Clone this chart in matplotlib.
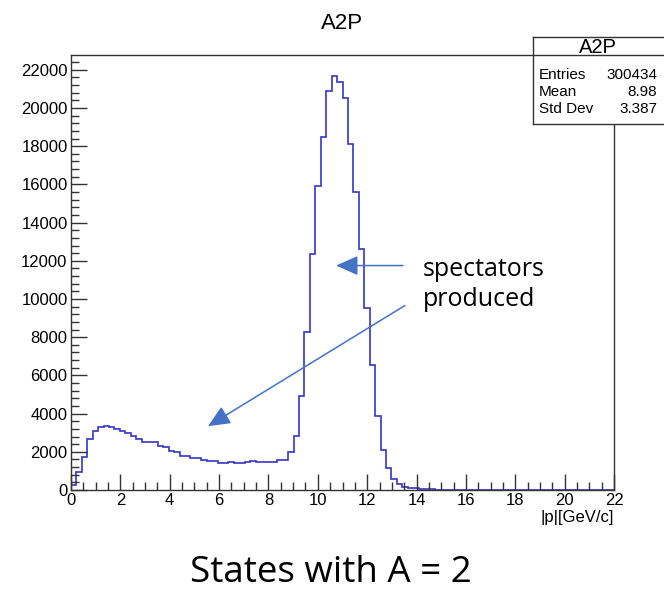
import numpy as np
import matplotlib
matplotlib.use('Agg')
import matplotlib.pyplot as plt
from matplotlib.ticker import MultipleLocator


# histogram A2P : 100 bins over 0..22 GeV/c
x_lo = 0.0
x_hi = 22.0
counts = [250, 920, 1740, 2670, 3100, 3280, 3360, 3280, 3170, 3100,
          3010, 2820, 2650, 2510, 2490, 2520, 2300, 2230, 2060, 1970,
          1790, 1790, 1700, 1650, 1570, 1530, 1530, 1430, 1430, 1450,
          1430, 1430, 1480, 1500, 1460, 1480, 1480, 1480, 1570, 1570,
          2000, 2820, 4910, 8280, 12370, 15890, 18500, 20900, 21690, 21340,
          20500, 18120, 15590, 12630, 9550, 6530, 3870, 2110, 1150, 580,
          310, 170, 120, 80, 60, 40, 30, 20, 10, 0] + [0] * 30

stat_names = ['Entries', 'Mean', 'Std Dev']
stat_values = ['300434', '8.98', '3.387']

# arrows pointing at the spectator bump / peak (data coords)
arrow_peak = ((13.45, 11750), (10.74, 11750))
arrow_bump = ((13.53, 9660), (5.55, 3340))

W, H = 664, 593
hist_col = '#3535c4'
arrow_col = '#4472c4'
root_font = 'Liberation Sans'
slide_font = 'Open Sans'


def px(x, y):
    return x / W, 1 - y / H


def main():

    fig = plt.figure(figsize=(W / 100, H / 100), dpi=100)
    fig.patch.set_facecolor('white')

    l, t = px(71, 55)
    r, b = px(614, 490)
    ax = fig.add_axes([l, b, r - l, t - b])

    edges = np.linspace(x_lo, x_hi, len(counts) + 1)
    ax.stairs(counts, edges, baseline=0, color=hist_col, lw=1.2)

    ax.set_xlim(x_lo, x_hi)
    ax.set_ylim(0, 1.05 * max(counts))

    ax.xaxis.set_major_locator(MultipleLocator(2))
    ax.xaxis.set_minor_locator(MultipleLocator(0.5))
    ax.yaxis.set_major_locator(MultipleLocator(2000))
    ax.yaxis.set_minor_locator(MultipleLocator(400))
    ax.tick_params(which='both', direction='in', top=False, right=False,
                   color='#333333', width=1.0)
    ax.tick_params(which='major', length=11.5, labelsize=12, pad=2.5)
    ax.tick_params(which='minor', length=5.8)
    for lab in ax.get_xticklabels() + ax.get_yticklabels():
        lab.set_fontfamily(root_font)
    for sp in ax.spines.values():
        sp.set_color('#333333')
        sp.set_linewidth(1.0)

    ax.set_xlabel('|p|[GeV/c]', loc='right', fontsize=12,
                  family=root_font, labelpad=1)

    # arrows + annotation text (slide overlay)
    for start, tip in (arrow_peak, arrow_bump):
        ax.annotate('', xy=tip, xytext=start,
                    arrowprops=dict(arrowstyle='-|>,head_length=1.35,head_width=0.6',
                                    mutation_scale=10, color=arrow_col,
                                    lw=1.1, shrinkA=0, shrinkB=0))

    fig.text(*px(423, 276), 'spectators', fontsize=18, family=slide_font,
             ha='left', va='baseline')
    fig.text(*px(423, 306), 'produced', fontsize=18, family=slide_font,
             ha='left', va='baseline')

    # title
    fig.text(*px(342, 29), 'A2P', fontsize=16, family=root_font,
             ha='center', va='baseline')

    # stats box
    bl, bt = px(533, 37)
    br, bb = px(669, 124)
    sb = fig.add_axes([bl, bb, br - bl, bt - bb])
    sb.set_xticks([])
    sb.set_yticks([])
    sb.set_xlim(0, 1)
    sb.set_ylim(0, 1)
    for sp in sb.spines.values():
        sp.set_color('#333333')
        sp.set_linewidth(1.0)
    sb.axhline(0.793, color='#333333', lw=1.0)
    sb.text(0.478, 0.885, 'A2P', fontsize=14.5, family=root_font,
            ha='center', va='center')
    ys = [0.563, 0.368, 0.172]
    for nm, val, yy in zip(stat_names, stat_values, ys):
        sb.text(0.044, yy, nm, fontsize=11, family=root_font,
                ha='left', va='center')
        sb.text(0.912, yy, val, fontsize=11, family=root_font,
                ha='right', va='center')

    # slide caption
    fig.text(*px(331, 582), 'States with A = 2', fontsize=26.5,
             family=slide_font, ha='center', va='baseline')

    fig.savefig('out.png', dpi=100)


if __name__ == '__main__':
    main()
